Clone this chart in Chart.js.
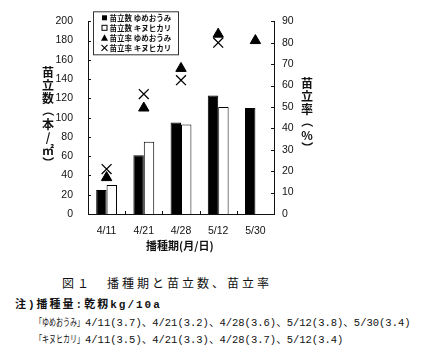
<!DOCTYPE html>
<html><head><meta charset="utf-8">
<script src="https://cdn.jsdelivr.net/npm/chart.js@4"></script>
<style>
html,body{margin:0;padding:0;background:#fff;}
#wrap{position:relative;width:424px;height:357px;overflow:hidden;background:#fff;font-family:"Noto Sans CJK JP",sans-serif;color:#111;}
#cv{position:absolute;left:0;top:0;}
.vt{position:absolute;width:14px;font-size:12px;font-weight:bold;line-height:13px;text-align:center;}
.vt span{display:block;height:13px;}
.vt span.r{transform:rotate(90deg);}
.ab{position:absolute;white-space:nowrap;line-height:1;}
.mono{font-family:"Liberation Mono","Noto Sans CJK JP",monospace;}
.kana{display:inline-block;width:50px;overflow:visible;vertical-align:baseline;}
.kana span{display:inline-block;transform:scaleX(0.7);transform-origin:0 50%;font-family:"Noto Sans CJK JP";font-size:10px;}
</style>
</head><body>
<div id="wrap">
<canvas id="cv" width="424" height="260"></canvas>
<div class="vt" style="left:41px;top:65px;"><span>苗</span><span>立</span><span>数</span><span class="r">（</span><span>本</span><span>/</span><span>㎡</span><span class="r">）</span></div>
<div class="vt" style="left:300px;top:76px;"><span>苗</span><span>立</span><span>率</span><span class="r">（</span><span>%</span><span class="r">）</span></div>
<div class="ab" style="left:146px;top:240px;font-size:11px;font-weight:bold;">播種期(月/日)</div>
<div class="ab" style="left:62px;top:277px;font-size:12px;letter-spacing:3px;">図１　播種期と苗立数、苗立率</div>
<div class="ab mono" style="left:15px;top:300px;font-size:11px;font-weight:bold;letter-spacing:2px;">注)播種量:乾籾kg/10a</div>
<div class="ab mono" style="left:35px;top:317px;font-size:10.5px;"><span class="kana"><span>「ゆめおうみ」</span></span>4/11(3.7)、4/21(3.2)、4/28(3.6)、5/12(3.8)、5/30(3.4)</div>
<div class="ab mono" style="left:35px;top:334px;font-size:10.5px;"><span class="kana"><span>「キヌヒカリ」</span></span>4/11(3.5)、4/21(3.3)、4/28(3.7)、5/12(3.4)</div>
</div>
<script>
const categories = ['4/11','4/21','4/28','5/12','5/30'];
const countYume = [25, 61, 95, 123, 110];
const countKinu = [30, 75, 93, 111, null];
const rateYume = [17, 49.5, 68, 84, 81];
const rateKinu = [21, 56, 62.5, 80, null];
const seriesLabels = ['苗立数 ゆめおうみ','苗立数 キヌヒカリ','苗立率 ゆめおうみ','苗立率 キヌヒカリ'];

const inwardTicks = {
  id: 'inwardTicks',
  afterDraw(chart) {
    const {ctx, chartArea: a, scales} = chart;
    ctx.save();
    ctx.strokeStyle = '#111';
    ctx.lineWidth = 1;
    ctx.beginPath();
    scales.y.ticks.forEach((t, i) => {
      const py = Math.round(scales.y.getPixelForTick(i)) + 0.5;
      ctx.moveTo(a.left, py); ctx.lineTo(a.left + 3, py);
    });
    scales.y2.ticks.forEach((t, i) => {
      const py = Math.round(scales.y2.getPixelForTick(i)) + 0.5;
      ctx.moveTo(a.right, py); ctx.lineTo(a.right - 3, py);
    });
    for (let i = 1; i < categories.length; i++) {
      const px = Math.round((scales.x.getPixelForTick(i - 1) + scales.x.getPixelForTick(i)) / 2) + 0.5;
      ctx.moveTo(px, a.bottom); ctx.lineTo(px, a.bottom - 3);
    }
    ctx.stroke();
    ctx.restore();
  }
};

const legendBox = {
  id: 'legendBox',
  afterDraw(chart) {
    const {ctx, chartArea: a} = chart;
    const bx = a.left + 5.5, by = a.top - 9.5, bw = 85, bh = 43;
    ctx.save();
    ctx.fillStyle = '#fff';
    ctx.fillRect(bx, by, bw, bh);
    ctx.strokeStyle = '#333';
    ctx.lineWidth = 1;
    ctx.strokeRect(bx, by, bw, bh);
    ctx.font = 'bold 7.5px "Noto Sans CJK JP"';
    ctx.textBaseline = 'middle';
    chart.data.datasets.forEach((ds, i) => {
      const cy = by + 5.5 + 10 * i + 0.5;
      const mx = bx + 11;
      ctx.fillStyle = '#000'; ctx.strokeStyle = '#000';
      if (i === 0) { ctx.fillRect(mx - 2.5, cy - 2.5, 5, 5); }
      else if (i === 1) { ctx.lineWidth = 1; ctx.strokeRect(mx - 2.5, cy - 2.5, 5, 5); }
      else if (i === 2) { ctx.beginPath(); ctx.moveTo(mx, cy - 3.5); ctx.lineTo(mx + 3.5, cy + 3); ctx.lineTo(mx - 3.5, cy + 3); ctx.closePath(); ctx.fill(); }
      else { ctx.lineWidth = 1.1; ctx.beginPath(); ctx.moveTo(mx - 3, cy - 3); ctx.lineTo(mx + 3, cy + 3); ctx.moveTo(mx + 3, cy - 3); ctx.lineTo(mx - 3, cy + 3); ctx.stroke(); }
      ctx.fillStyle = '#111';
      ctx.fillText(ds.label, bx + 16, cy);
    });
    ctx.restore();
  }
};

const tickFont = {family: '"Liberation Sans", Arial, sans-serif', size: 10.5};

new Chart(document.getElementById('cv'), {
  type: 'bar',
  data: {
    labels: categories,
    datasets: [
      {label: seriesLabels[0], data: countYume, yAxisID: 'y', backgroundColor: '#000', borderColor: '#000', borderWidth: 1, order: 2},
      {label: seriesLabels[1], data: countKinu, yAxisID: 'y', backgroundColor: '#fff', borderColor: '#000', borderWidth: 1, order: 2},
      {type: 'line', label: seriesLabels[2], data: rateYume, yAxisID: 'y2', showLine: false, pointStyle: 'triangle', pointRadius: 6, backgroundColor: '#000', borderColor: '#000', borderWidth: 1, order: 1},
      {type: 'line', label: seriesLabels[3], data: rateKinu, yAxisID: 'y2', showLine: false, pointStyle: 'crossRot', pointRadius: 7, backgroundColor: '#000', borderColor: '#000', borderWidth: 1.3, order: 1}
    ]
  },
  options: {
    responsive: false,
    animation: false,
    events: [],
    categoryPercentage: 0.56,
    barPercentage: 1.0,
    layout: {padding: {left: 0, right: 110, top: 21, bottom: 22}},
    plugins: {legend: {display: false}, tooltip: {enabled: false}},
    scales: {
      x: {
        grid: {display: false, drawTicks: false},
        border: {display: true, color: '#111', width: 1},
        ticks: {color: '#111', font: tickFont, padding: 11, maxRotation: 0},
        afterFit(s) { s.height = 24; }
      },
      y: {
        position: 'left', min: 0, max: 200,
        grid: {display: false, drawTicks: false},
        border: {display: true, color: '#111', width: 1},
        ticks: {stepSize: 20, color: '#111', font: tickFont, padding: 15},
        afterFit(s) { s.width = 88; }
      },
      y2: {
        position: 'right', min: 0, max: 90,
        grid: {display: false, drawTicks: false},
        border: {display: true, color: '#111', width: 1},
        ticks: {stepSize: 10, color: '#111', font: tickFont, padding: 8},
        afterFit(s) { s.width = 40; }
      }
    }
  },
  plugins: [inwardTicks, legendBox]
});
</script>
</body></html>
